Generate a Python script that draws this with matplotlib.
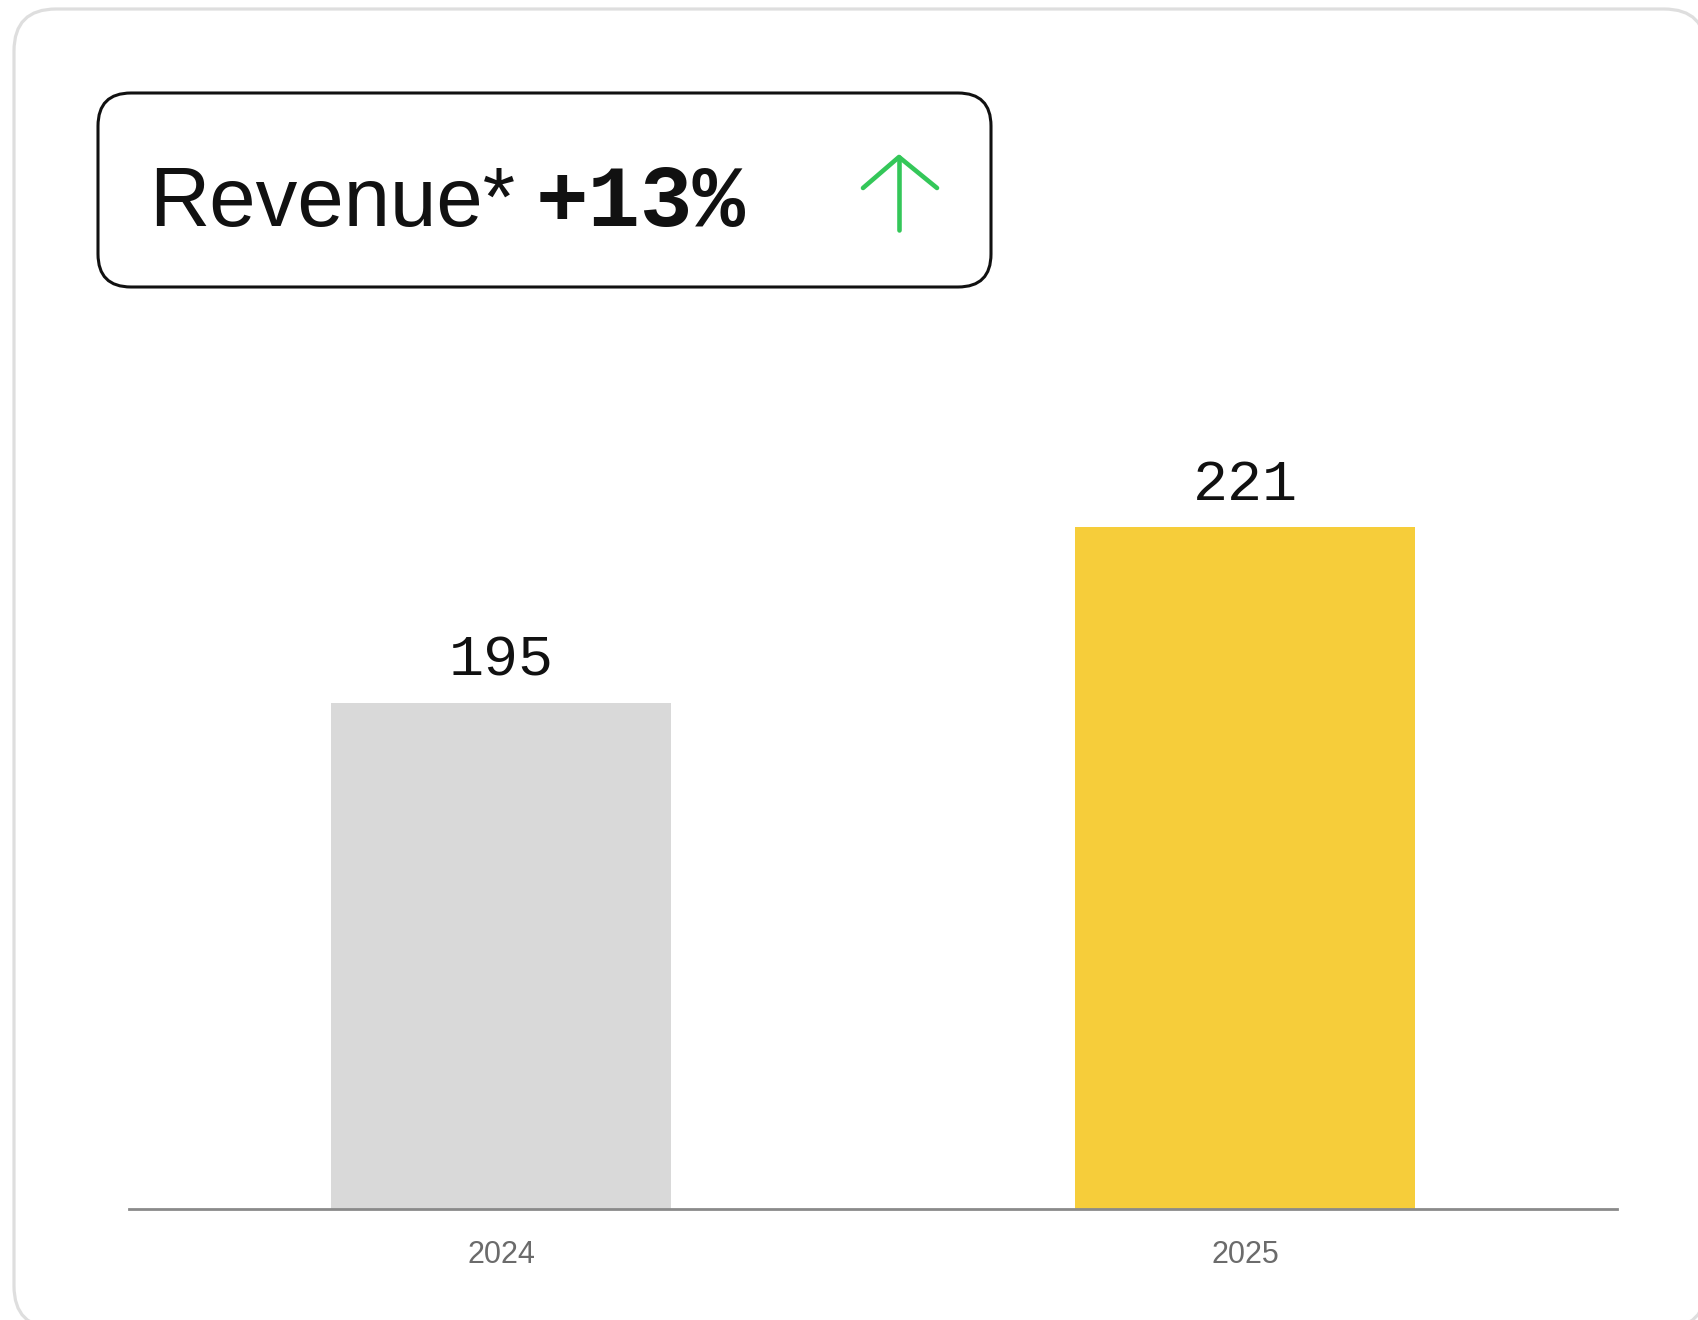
import matplotlib
matplotlib.use("Agg")
import matplotlib.pyplot as plt
from matplotlib.patches import FancyBboxPatch

# chart data
years = ["2024", "2025"]
revenue = [195, 221]
bar_colors = ["#d9d9d9", "#f6cd3a"]
headline = "Revenue*"
change = "+13%"

W, H, DPI = 1698, 1320, 100
fig = plt.figure(figsize=(W / DPI, H / DPI), dpi=DPI, facecolor="white")

# overlay in pixel units for the card, the headline box and the arrow
deco = fig.add_axes([0, 0, 1, 1])
deco.set_xlim(0, W)
deco.set_ylim(H, 0)
deco.axis("off")

# filled (white) so the agg path clipper leaves the off-canvas corners alone
card = FancyBboxPatch((14, 9), 1692, 1319, boxstyle="round,pad=0,rounding_size=42",
                      facecolor="white", edgecolor="#dedede", linewidth=2.3, zorder=0)
deco.add_patch(card)

box = FancyBboxPatch((98, 93), 893, 194, boxstyle="round,pad=0,rounding_size=33",
                     facecolor="none", edgecolor="#111111", linewidth=2.2)
deco.add_patch(box)

deco.text(149, 226, headline, fontsize=60, family="Liberation Sans",
          color="#111111", ha="left", va="baseline")
deco.text(536, 226, change, fontsize=63, family="Liberation Mono", weight="bold",
          color="#111111", ha="left", va="baseline")

# up arrow
green = "#34c759"
deco.plot([899, 899], [230, 157], color=green, lw=3.3, solid_capstyle="round")
deco.plot([863, 899, 937], [188, 157, 188], color=green, lw=3.3,
          solid_capstyle="round", solid_joinstyle="round")

# bar chart
ax = fig.add_axes([129 / W, 1 - 1209 / H, (1617 - 129) / W, (1209 - 300) / H])
ax.patch.set_alpha(0)
x = range(len(years))
ax.bar(x, revenue, width=0.456, color=bar_colors, zorder=1)
ax.set_xlim(-0.5, 1.5)
ax.set_ylim(120, 120 + 909 / 6.75)

for i, v in zip(x, revenue):
    ax.annotate(str(v), (i, v), xytext=(0, 19.5), textcoords="offset points",
                ha="center", va="baseline", fontsize=42, family="Liberation Mono",
                color="#111111")

for side in ["top", "right", "left"]:
    ax.spines[side].set_visible(False)
ax.spines["bottom"].set_color("#8a8a8a")
ax.spines["bottom"].set_linewidth(2)
ax.spines["bottom"].set_zorder(3)
ax.set_yticks([])
ax.set_xticks(list(x))
ax.set_xticklabels(years, fontsize=22, family="Liberation Sans", color="#6b6b6b")
ax.tick_params(axis="x", length=0, pad=22)

fig.savefig("out.png", dpi=DPI, facecolor="white")
